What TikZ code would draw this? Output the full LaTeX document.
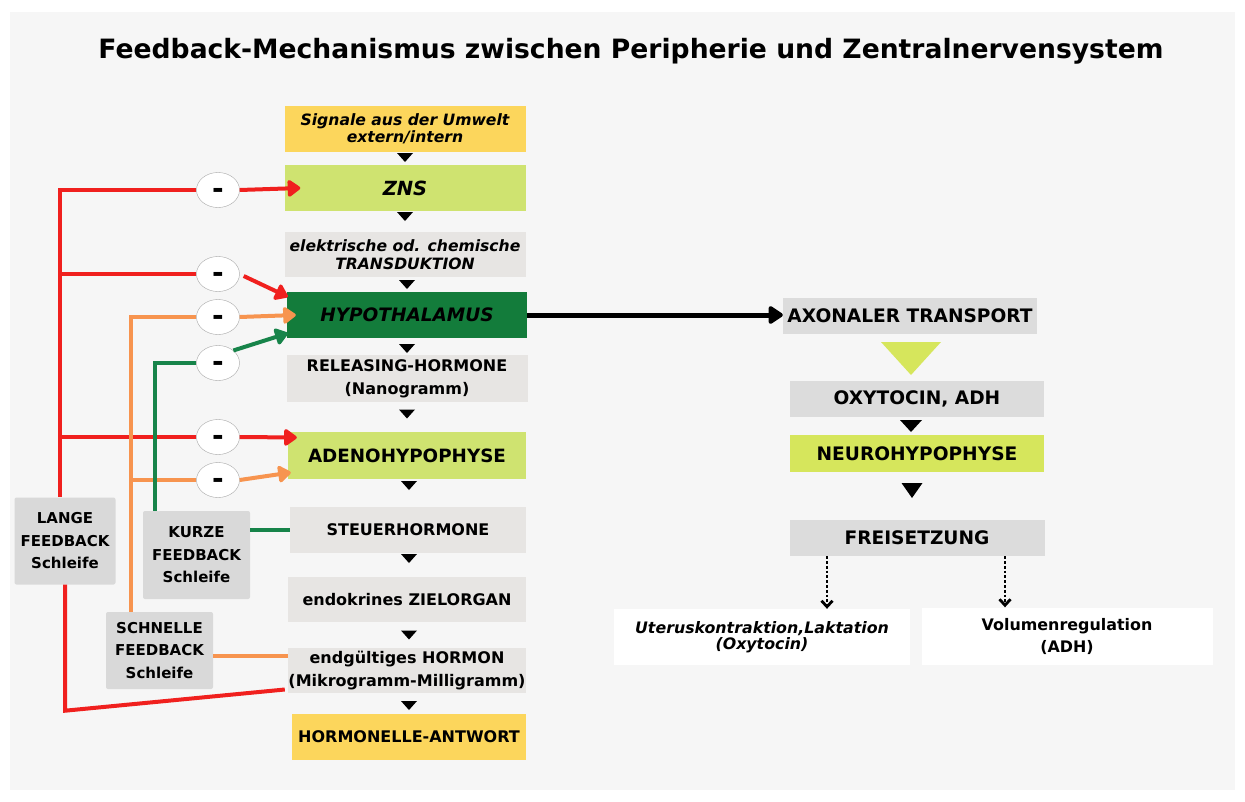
\documentclass[tikz,border=0pt]{standalone}
\usepackage{fontspec}
\setmainfont{DejaVu Sans}
\usepackage{tikz}
\usetikzlibrary{arrows.meta,shapes.geometric,calc}
\definecolor{bggray}{HTML}{F6F6F6}
\definecolor{boxgray}{HTML}{E7E5E3}
\definecolor{rgray}{HTML}{DCDCDC}
\definecolor{fbgray}{HTML}{D9D9D9}
\definecolor{sigyellow}{HTML}{FCD65C}
\definecolor{lgreen}{HTML}{CFE370}
\definecolor{lime}{HTML}{D6E65C}
\definecolor{dgreen}{HTML}{137C3B}
\definecolor{fbred}{HTML}{F0201E}
\definecolor{fborange}{HTML}{F7944F}
\definecolor{fbgreen}{HTML}{17844A}
\tikzset{
  box/.style={minimum width=241, minimum height=46, inner sep=0, align=center,
    font=\bfseries\fontsize{16}{23}\selectfont},
  bigbox/.style={box, font=\bfseries\fontsize{18.3}{20}\selectfont},
  itbox/.style={box, font=\bfseries\itshape\fontsize{15.6}{17.5}\selectfont},
  rbox/.style={box, fill=rgray, minimum width=254, minimum height=36,
    font=\bfseries\fontsize{18.6}{20}\selectfont},
  fbbox/.style={fill=fbgray, rounded corners=2pt, inner sep=0, align=center,
    font=\bfseries\fontsize{15}{22.5}\selectfont},
  minus/.style={ellipse, draw=gray!70, fill=white, minimum width=43,
    minimum height=35, inner sep=0, font=\bfseries\fontsize{28}{28}\selectfont},
  fb/.style={line width=4pt},
  tip/.style={-{Triangle[round,length=14pt,width=19pt]}}
}
\begin{document}
\begin{tikzpicture}[x=1pt,y=-1pt]
  \useasboundingbox (0,0) rectangle (1245,801);
  \fill[white] (0,0) rectangle (1245,801);
  \fill[bggray] (10,12) rectangle (1235,790);
  \node[font=\bfseries\fontsize{26.6}{26.6}\selectfont] (title) at (631,51)
    {Feedback-Mechanismus zwischen Peripherie und Zentralnervensystem};

  % middle column
  \node[itbox, fill=sigyellow] (sig) at (405,129) {Signale aus der Umwelt\\extern/intern};
  \node[itbox, fill=lgreen, font=\bfseries\itshape\fontsize{19.5}{20}\selectfont] (zns) at (405,188) {ZNS};
  \node[itbox, fill=boxgray, minimum height=45] (trans) at (405,254.5)
    {elektrische od. chemische\\TRANSDUKTION};
  \node[itbox, fill=dgreen, minimum width=240, font=\bfseries\itshape\fontsize{18.5}{20}\selectfont]
    (hypo) at (407,315) {HYPOTHALAMUS};
  \node[box, fill=boxgray, minimum height=47] (rel) at (407,378.5) {RELEASING-HORMONE\\(Nanogramm)};
  \node[bigbox, fill=lgreen, minimum width=238, minimum height=47] (adeno) at (407,455.5) {ADENOHYPOPHYSE};
  \node[box, fill=boxgray, minimum width=236] (steuer) at (408,530) {STEUERHORMONE};
  \node[box, fill=boxgray, minimum width=238, minimum height=45] (ziel) at (407,599.5) {endokrines ZIELORGAN};
  \node[box, fill=boxgray, minimum width=238, minimum height=45] (endg) at (407,670.5)
    {endgültiges HORMON\\(Mikrogramm-Milligramm)};
  \node[box, fill=sigyellow, minimum width=234] (antw) at (409,737) {HORMONELLE-ANTWORT};

  % small arrow heads between boxes
  \foreach \x/\y/\w/\h in {405/157.5/16/9, 405/216.5/16/9, 407/284.5/16/9, 407/348.5/16/9,
      407/414/16/9, 409/485.5/16/9, 409/558.5/16/9, 409/635/16/9, 409/705.5/16/9,
      911/426/22/12, 912/490.5/21/15}
    \fill (\x-\w/2,\y-\h/2) -- ++(\w,0) -- ++(-\w/2,\h) -- cycle;

  % right column
  \node[rbox] (axo) at (910,316) {AXONALER TRANSPORT};
  \node[rbox] (oxy) at (917,399) {OXYTOCIN, ADH};
  \node[rbox, fill=lime, minimum height=37] (neuro) at (917,453.5) {NEUROHYPOPHYSE};
  \node[rbox, minimum width=255] (frei) at (917,538) {FREISETZUNG};
  \node[box, fill=white, minimum width=296, minimum height=56,
    font=\bfseries\itshape\fontsize{15.8}{16.5}\selectfont] (uterus) at (762,637)
    {Uteruskontraktion,Laktation\\(Oxytocin)};
  \node[box, fill=white, minimum width=291, minimum height=57,
    font=\bfseries\fontsize{15.9}{22}\selectfont] (volumen) at (1067,636)
    {Volumenregulation\\(ADH)};
  \fill[lime] (881,342) -- (941,342) -- (911,375) -- cycle;
  \draw[line width=5pt, -{Triangle[round,length=16pt,width=20pt]}] (hypo.east) -- (axo.west |- hypo.east);
  \draw[line width=2.8pt, dotted, -{Straight Barb[length=6pt,width=11pt]}]
    (frei.south -| 827,0) -- (uterus.north -| 827,0);
  \draw[line width=2.8pt, dotted, -{Straight Barb[length=6pt,width=11pt]}]
    (frei.south -| 1005,0) -- (volumen.north -| 1005,0);

  % feedback boxes
  \node[fbbox, minimum width=101, minimum height=87] (lange) at (65,541) {LANGE\\FEEDBACK\\Schleife};
  \node[fbbox, minimum width=107, minimum height=88] (kurze) at (196.5,555) {KURZE\\FEEDBACK\\Schleife};
  \node[fbbox, minimum width=107, minimum height=77] (schnelle) at (159.5,650.5) {SCHNELLE\\FEEDBACK\\Schleife};

  % minus circles
  \node[minus] (m1) at (218,190) {\raisebox{-8.7pt}[0pt][0pt]{-}};
  \node[minus] (m2) at (218,274) {\raisebox{-8.7pt}[0pt][0pt]{-}};
  \node[minus] (m3) at (218,317) {\raisebox{-8.7pt}[0pt][0pt]{-}};
  \node[minus] (m4) at (218,363) {\raisebox{-8.7pt}[0pt][0pt]{-}};
  \node[minus] (m5) at (218,437) {\raisebox{-8.7pt}[0pt][0pt]{-}};
  \node[minus] (m6) at (218,480) {\raisebox{-8.7pt}[0pt][0pt]{-}};

  \coordinate (rtop) at (60,190);
  \coordinate (otop) at (131,317);
  \coordinate (gtop) at (155,363);

  % long loop
  \draw[fb, fbred] (m1.west) -- (rtop) -- (rtop |- lange.north);
  \draw[fb, fbred] (m2.west) -- (rtop |- m2);
  \draw[fb, fbred] (m5.west) -- (rtop |- m5);
  \draw[fb, fbred] (lange.south) -- ++(0,126) -- ($(endg.west)+(-3,19)$);
  \draw[fb, fbred, tip] (m1.east) -- ($(zns.west)+(16,0)$);
  \draw[fb, fbred, tip] (m2.east) ++(4,2) -- ($(hypo.north west)+(1,5)$);
  \draw[fb, fbred, tip] (m5.east) -- ($(adeno.west)+(9,-18)$);

  % fast loop
  \draw[fb, fborange] (m3.west) -- (otop) -- (otop |- schnelle.north);
  \draw[fb, fborange] (m6.west) -- (otop |- m6);
  \draw[fb, fborange] (schnelle.east |- 0,656) -- (endg.west |- 0,656);
  \draw[fb, fborange, tip] (m3.east) -- ($(hypo.west)+(9,0)$);
  \draw[fb, fborange, tip] (m6.east) -- ($(adeno.west)+(3,17)$);

  % short loop
  \draw[fb, fbgreen] (m4.west) -- (gtop) -- (gtop |- kurze.north);
  \draw[fb, fbgreen] (kurze.east |- steuer.west) -- (steuer.west);
  \draw[fb, fbgreen, tip] (m4.north east) -- ($(hypo.south west)+(1,-5)$);
\end{tikzpicture}
\end{document}
